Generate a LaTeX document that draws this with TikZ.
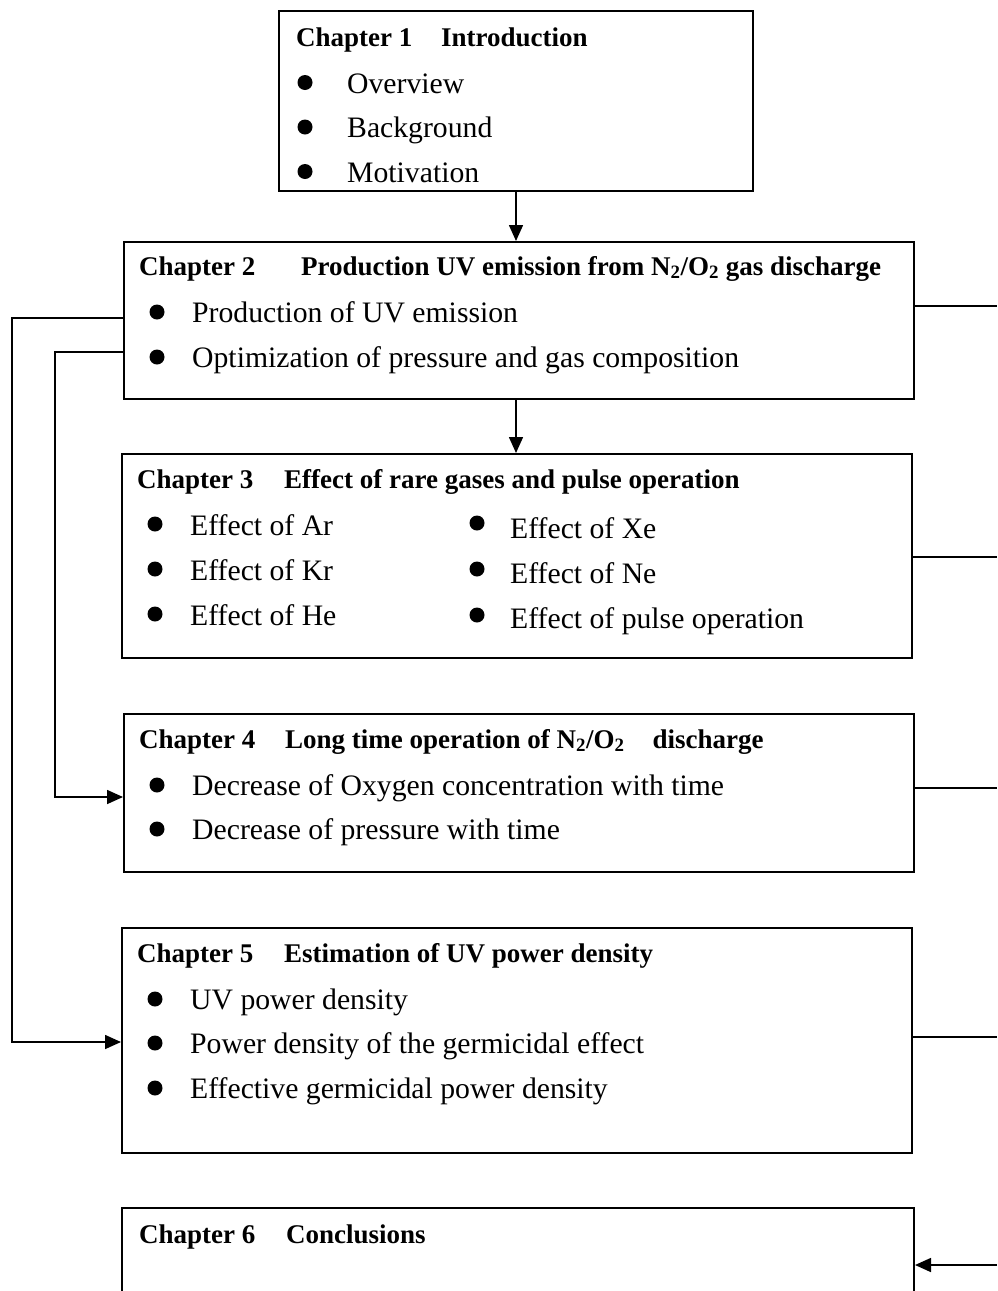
\documentclass[tikz,border=0pt]{standalone}
\usepackage{fontspec}
\setmainfont{Liberation Serif}
\usetikzlibrary{arrows.meta}
\begin{document}
\begin{tikzpicture}[x=1pt,y=-1pt,
  box/.style={draw, line width=2pt, anchor=north west, inner sep=0pt},
  head/.style={anchor=base west, inner sep=0pt, font=\fontsize{27}{30}\selectfont\bfseries},
  txt/.style={anchor=base west, inner sep=0pt, font=\fontsize{29.7}{34}\selectfont},
  bul/.style={circle, fill, inner sep=0pt, minimum size=15pt},
  ln/.style={line width=1.6pt},
  arr/.style={line width=1.6pt, -{Triangle[length=16pt,width=14pt]}}]
\clip (0,0) rectangle (997,1291);
\fill[white] (0,0) rectangle (997,1291);
% boxes
\node[box, minimum width=474pt, minimum height=180pt] (b1) at (278,10) {};
\node[box, minimum width=790pt, minimum height=157pt] (b2) at (123,241) {};
\node[box, minimum width=790pt, minimum height=204pt] (b3) at (121,453) {};
\node[box, minimum width=790pt, minimum height=158pt] (b4) at (123,713) {};
\node[box, minimum width=790pt, minimum height=225pt] (b5) at (121,927) {};
\node[box, minimum width=792pt, minimum height=120pt] (b6) at (121,1207) {};
% box 1
\node[head] (h1a) at (296,46) {Chapter 1};
\node[head] (h1b) at (441,46) {Introduction};
\node[bul] (d11) at (305,82.5) {};
\node[bul] (d12) at (305,127) {};
\node[bul] (d13) at (305,171.5) {};
\node[txt] (t11) at (347,93) {Overview};
\node[txt] (t12) at (347,137.5) {Background};
\node[txt] (t13) at (347,182) {Motivation};
% box 2
\node[head] (h2a) at (139,275) {Chapter 2};
\node[head] (h2b) at (301,275) {Production UV emission from N\textsubscript{2}/O\textsubscript{2} gas discharge};
\node[bul] (d21) at (157,312) {};
\node[bul] (d22) at (157,357) {};
\node[txt] (t21) at (192,322.5) {Production of UV emission};
\node[txt] (t22) at (192,367.5) {Optimization of pressure and gas composition};
% box 3
\node[head] (h3a) at (137,488) {Chapter 3};
\node[head] (h3b) at (284,488) {Effect of rare gases and pulse operation};
\node[bul] (d31) at (155,524) {};
\node[bul] (d32) at (155,569) {};
\node[bul] (d33) at (155,614) {};
\node[txt] (t31) at (190,535) {Effect of Ar};
\node[txt] (t32) at (190,580) {Effect of Kr};
\node[txt] (t33) at (190,625) {Effect of He};
\node[bul] (d34) at (477,523) {};
\node[bul] (d35) at (477,569) {};
\node[bul] (d36) at (477,615) {};
\node[txt] (t34) at (510,538) {Effect of Xe};
\node[txt] (t35) at (510,583) {Effect of Ne};
\node[txt] (t36) at (510,628) {Effect of pulse operation};
% box 4
\node[head] (h4a) at (139,748) {Chapter 4};
\node[head] (h4b) at (285,748) {Long time operation of N\textsubscript{2}/O\textsubscript{2}\hspace{28pt}discharge};
\node[bul] (d41) at (157,785) {};
\node[bul] (d42) at (157,829) {};
\node[txt] (t41) at (192,795) {Decrease of Oxygen concentration with time};
\node[txt] (t42) at (192,839) {Decrease of pressure with time};
% box 5
\node[head] (h5a) at (137,962) {Chapter 5};
\node[head] (h5b) at (284,962) {Estimation of UV power density};
\node[bul] (d51) at (155,999) {};
\node[bul] (d52) at (155,1043) {};
\node[bul] (d53) at (155,1088) {};
\node[txt] (t51) at (190,1009) {UV power density};
\node[txt] (t52) at (190,1053) {Power density of the germicidal effect};
\node[txt] (t53) at (190,1098) {Effective germicidal power density};
% box 6
\node[head] (h6a) at (139,1243) {Chapter 6};
\node[head] (h6b) at (286,1243) {Conclusions};
% vertical arrows
\draw[arr] (b1.south) -- (b1.south |- b2.north);
\draw[arr] (b2.south -| b1.south) -- (b1.south |- b3.north);
% right side lines
\coordinate (r2) at (997,306);
\coordinate (r3) at (997,557);
\coordinate (r4) at (997,788);
\coordinate (r5) at (997,1037);
\coordinate (r6) at (997,1265);
\draw[ln] (b2.east |- r2) -- (r2);
\draw[ln] (b3.east |- r3) -- (r3);
\draw[ln] (b4.east |- r4) -- (r4);
\draw[ln] (b5.east |- r5) -- (r5);
\draw[arr] (r6) -- (b6.east |- r6);
% left side connectors
\coordinate (p1) at (12,318);
\coordinate (p2) at (12,1042);
\coordinate (q1) at (55,352);
\coordinate (q2) at (55,797);
\draw[arr] (b2.west |- p1) -- (p1) -- (p2) -- (b5.west |- p2);
\draw[arr] (b2.west |- q1) -- (q1) -- (q2) -- (b4.west |- q2);
\end{tikzpicture}
\end{document}
